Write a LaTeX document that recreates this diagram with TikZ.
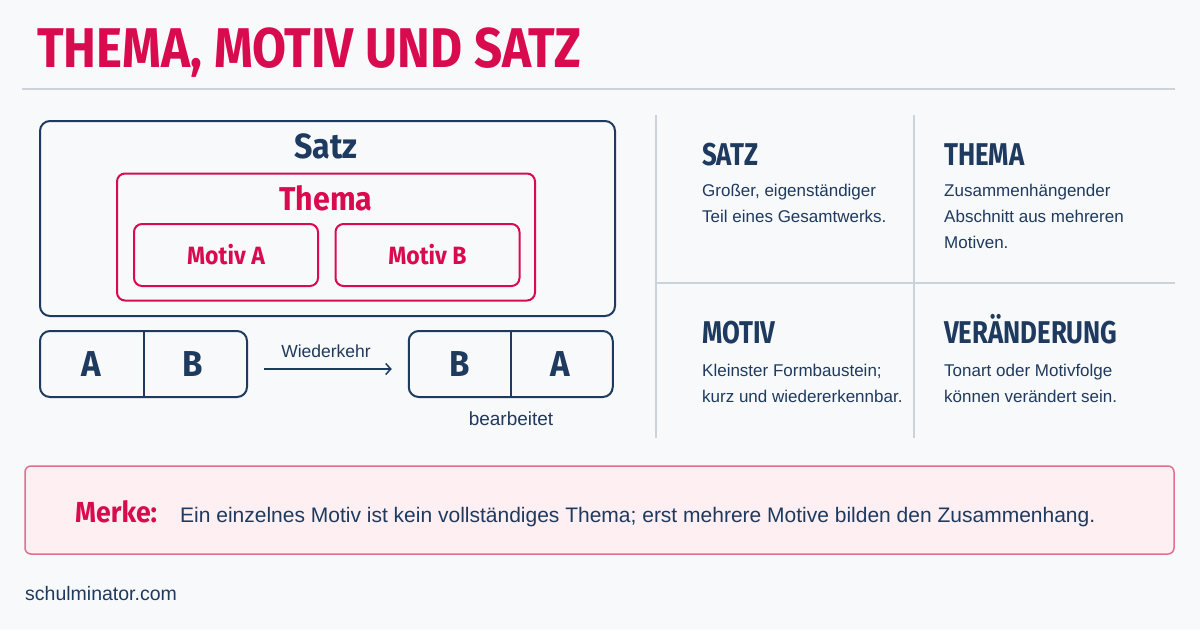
\documentclass[tikz,border=0pt]{standalone}
\usepackage{fontspec}
\setmainfont{Liberation Sans}
\newfontfamily\titelfont[FakeStretch=0.88]{Fira Sans}
\newfontfamily\kopffont[FakeStretch=0.82]{Fira Sans}
\newfontfamily\etikettfont[FakeStretch=0.92]{Fira Sans}
\usepackage{tikz}
\usetikzlibrary{positioning, arrows.meta}
\definecolor{rot}{HTML}{D90B4F}
\definecolor{blau}{HTML}{1F3A5F}
\definecolor{grau}{HTML}{CBD2DA}
\definecolor{hinter}{HTML}{F7F9FB}
\definecolor{rosa}{HTML}{FDEFF2}
\definecolor{rosarand}{HTML}{E0708F}
\tikzset{
	x=1pt, y=-1pt, % ein Pixel = ein Punkt, y nach unten
	>={Straight Barb[length=5pt,width=11pt]}, % offene Pfeilspitze
	kasten/.style={draw=blau, line width=2pt, rounded corners=10pt, inner sep=0pt}, % blaue Rahmen
	rotkasten/.style={draw=rot, line width=2pt, rounded corners=8pt, inner sep=0pt}, % rote Rahmen
	trenner/.style={draw=grau, line width=1.5pt}, % graue Linien
	titel/.style={font=\titelfont\bfseries\fontsize{56}{56}\selectfont, text=rot, inner sep=0pt},
	kopf/.style={font=\kopffont\bfseries\fontsize{31.5}{31.5}\selectfont, text=blau, inner sep=0pt, anchor=base west},
	beschr/.style={font=\fontsize{17}{26}\selectfont, text=blau, inner sep=0pt, anchor=north west, align=left},
	etikett/.style={font=\etikettfont\bfseries\fontsize{#1}{#1}\selectfont, inner sep=0pt}, % Beschriftung in den Kaesten
	klein/.style={font=\fontsize{#1}{#1}\selectfont, text=blau, inner sep=0pt, anchor=base}
}

\begin{document}
\begin{tikzpicture}
	\useasboundingbox (0,0) rectangle (1200,630);
	\fill[hinter] (0,0) rectangle (1200,630);
	% Titel
	\node[titel, anchor=base west] (titel) at (37,67) {THEMA, MOTIV UND SATZ};
	\draw[trenner] (22,89) -- (1175,89);
	% Satz > Thema > Motive
	\node[kasten, minimum width=575, minimum height=195] (satz) at (327.5,218.5) {};
	\node[etikett=35, text=blau, anchor=base] (satzname) at (326,158) {Satz};
	\node[rotkasten, minimum width=418, minimum height=127] (thema) at (326,237) {};
	\node[etikett=33, text=rot, anchor=base] (themaname) at (326,210) {Thema};
	\node[rotkasten, minimum width=184, minimum height=62] (motivA) at (226,255) {};
	\node[rotkasten, minimum width=184, minimum height=62, right=15.5pt of motivA] (motivB) {};
	\node[etikett=25, text=rot] at (motivA) {Motiv A};
	\node[etikett=25, text=rot] at (motivB) {Motiv B};
	% Reihenfolge
	\node[kasten, minimum width=207, minimum height=66] (ab) at (143.5,364) {};
	\node[kasten, minimum width=204, minimum height=66] (ba) at (510.75,364) {};
	\draw[draw=blau, line width=2pt] (ab.north) -- (ab.south)
		(ba.north) -- (ba.south);
	\node[etikett=36, text=blau] (a1) at ([xshift=-52pt]ab.center) {A};
	\node[etikett=36, text=blau] (b1) at ([xshift=49pt]ab.center) {B};
	\node[etikett=36, text=blau] (b2) at ([xshift=-51pt]ba.center) {B};
	\node[etikett=36, text=blau] (a2) at ([xshift=50pt]ba.center) {A};
	\draw[->, blau, line width=1.5pt, shorten <=16pt, shorten >=16pt] ([yshift=-5pt]ab.east) -- ([yshift=-5pt]ba.west);
	\node[klein=17.5] (wiederkehr) at (326,357) {Wiederkehr};
	\node[klein=19] (bearbeitet) at (511,425) {bearbeitet};
	% Begriffe
	\draw[trenner] (656,115) -- (656,438)
		(914,115) -- (914,438)
		(656,283) -- (1175,283);
	\node[kopf] (hsatz) at (702,165) {SATZ};
	\node[beschr] (tsatz) at (702,184) {Großer, eigenständiger\\Teil eines Gesamtwerks.};
	\node[kopf] (hthema) at (944,165) {THEMA};
	\node[beschr] (tthema) at (944,184) {Zusammenhängender\\Abschnitt aus mehreren\\Motiven.};
	\node[kopf] (hmotiv) at (702,343) {MOTIV};
	\node[beschr] (tmotiv) at (702,364) {Kleinster Formbaustein;\\kurz und wiedererkennbar.};
	\node[kopf] (hver) at (944,343) {VERÄNDERUNG};
	\node[beschr] (tver) at (944,364) {Tonart oder Motivfolge\\können verändert sein.};
	% Merke
	\node[draw=rosarand, fill=rosa, line width=1.5pt, rounded corners=6pt, minimum width=1149, minimum height=88] (merke) at (599.5,510) {};
	\node[etikett=29, text=rot, anchor=base west] (merkewort) at (75,522) {Merke:};
	\node[klein=21, anchor=base west] (merketext) at (180,522) {Ein einzelnes Motiv ist kein vollständiges Thema; erst mehrere Motive bilden den Zusammenhang.};
	\node[klein=19.5, anchor=base west] (quelle) at (25,600) {schulminator.com};
\end{tikzpicture}
\end{document}
